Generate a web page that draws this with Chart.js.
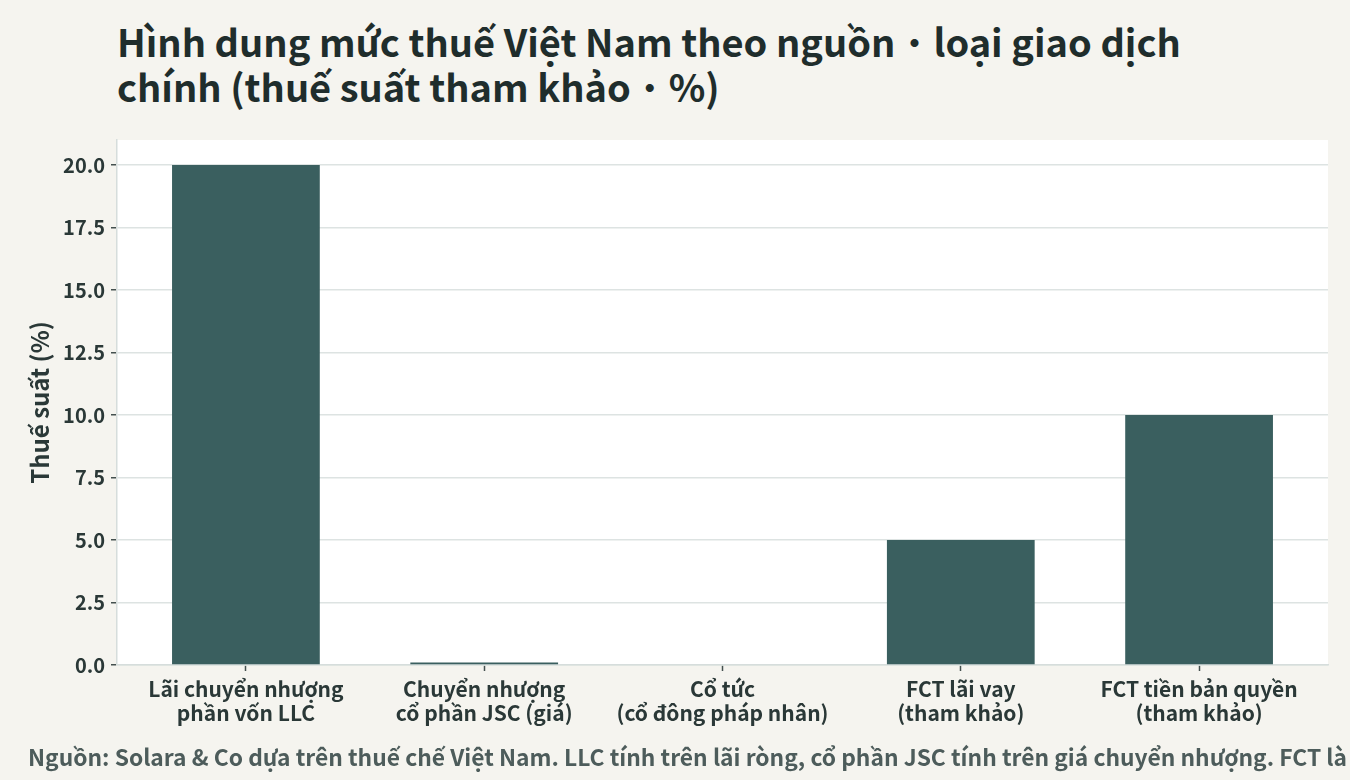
<!DOCTYPE html>
<html lang="vi">
<head>
<meta charset="utf-8">
<script src="https://cdn.jsdelivr.net/npm/chart.js@4.4.1/dist/chart.umd.min.js"></script>
<style>
  html, body { margin: 0; padding: 0; background: #f5f4ef; overflow: hidden; }
  body { width: 1350px; height: 780px; position: relative;
         font-family: "Noto Sans CJK JP", "Noto Sans", sans-serif; }
  #title { position: absolute; left: 117px; top: 18px; font-size: 38px; font-weight: bold;
           line-height: 45px; color: #1f2d2c; white-space: nowrap; }
  #title .dot { font-weight: normal; }
  #note { position: absolute; left: 28px; top: 740px; font-size: 22.8px; font-weight: bold;
          color: #4d5c5b; white-space: nowrap; }
  #wrap { position: absolute; left: 0; top: 0; width: 1350px; height: 780px; }
</style>
</head>
<body>
<div id="title">Hình dung mức thuế Việt Nam theo nguồn<span class="dot" lang="ja">・</span>loại giao dịch<br>chính (thuế suất tham khảo<span class="dot" lang="ja">・</span>%)</div>
<div id="wrap"><canvas id="myChart" width="1350" height="780"></canvas></div>
<div id="note">Nguồn: Solara &amp; Co dựa trên thuế chế Việt Nam. LLC tính trên lãi ròng, cổ phần JSC tính trên giá chuyển nhượng. FCT là mức tham khảo.</div>
<script>
const categories = [
  ["Lãi chuyển nhượng", "phần vốn LLC"],
  ["Chuyển nhượng", "cổ phần JSC (giá)"],
  ["Cổ tức", "(cổ đông pháp nhân)"],
  ["FCT lãi vay", "(tham khảo)"],
  ["FCT tiền bản quyền", "(tham khảo)"]
];
const taxRates = [20, 0.1, 0, 5, 10];
const yTicks = [0, 2.5, 5, 7.5, 10, 12.5, 15, 17.5, 20];

const ctx = document.getElementById("myChart");
const fontFamily = '"Noto Sans CJK JP", "Noto Sans", sans-serif';

// white plot area
const plotBg = {
  id: "plotBg",
  beforeDraw(chart) {
    const a = chart.chartArea;
    const c = chart.ctx;
    c.save();
    c.fillStyle = "#ffffff";
    c.fillRect(a.left, a.top, a.right - a.left, a.bottom - a.top);
    c.restore();
  }
};

const myChart = new Chart(ctx, {
  type: "bar",
  data: {
    datasets: [
      {
        label: "Thuế suất (%)",
        data: taxRates.map((v, i) => ({ x: i, y: v })),
        backgroundColor: "#3a5f5f",
        borderWidth: 0,
        barPercentage: 0.62,
        categoryPercentage: 1
      }
    ]
  },
  options: {
    responsive: false,
    maintainAspectRatio: false,
    animation: false,
    layout: { padding: { top: 140, right: 22, bottom: 45, left: 25 } },
    plugins: { legend: { display: false }, tooltip: { enabled: false } },
    scales: {
      x: {
        type: "linear",
        min: -0.541,
        max: 4.541,
        offset: false,
        afterBuildTicks(scale) {
          scale.ticks = categories.map((c, i) => ({ value: i }));
        },
        afterFit(scale) { scale.height = 70; },
        ticks: {
          stepSize: 1,
          includeBounds: false,
          autoSkip: false,
          maxRotation: 0,
          padding: 6,
          color: "#2a3837",
          font: { family: fontFamily, size: 21, weight: "bold", lineHeight: 1.15 },
          callback: (v) => categories[v]
        },
        grid: { offset: false, drawOnChartArea: false, drawTicks: true, tickLength: 6, tickColor: "#44504f", tickWidth: 1.5 },
        border: { display: true, color: "#d6dddc", width: 1.5 }
      },
      y: {
        min: 0,
        max: 21,
        afterBuildTicks(scale) {
          scale.ticks = yTicks.map((v) => ({ value: v }));
        },
        afterFit(scale) { scale.width = 92; },
        ticks: {
          color: "#2a3837",
          padding: 6,
          font: { family: fontFamily, size: 20, weight: "bold" },
          callback: (v) => v.toFixed(1)
        },
        grid: { color: "#dde3e2", lineWidth: 1.5, tickLength: 6, tickColor: "#44504f", tickWidth: 1.5 },
        border: { display: true, color: "#d6dddc", width: 1.5 },
        title: {
          display: true,
          text: "Thuế suất (%)",
          color: "#2a3837",
          padding: { top: 0, bottom: 6 },
          font: { family: fontFamily, size: 24, weight: "bold" }
        }
      }
    }
  },
  plugins: [plotBg]
});
</script>
</body>
</html>
